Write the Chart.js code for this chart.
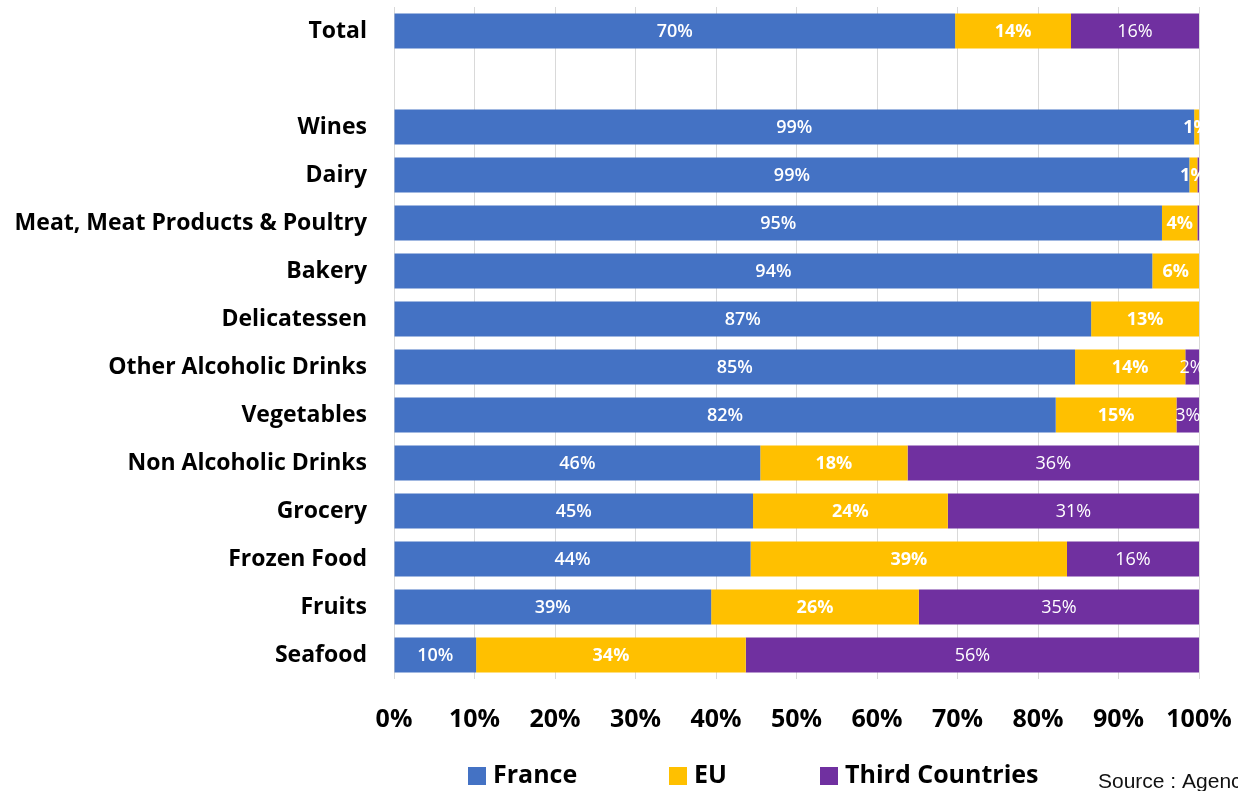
<!DOCTYPE html>
<html>
<head>
<meta charset="utf-8">
<script src="https://cdn.jsdelivr.net/npm/chart.js@4"></script>
<style>
  html, body { margin: 0; padding: 0; background: #fff; }
  #wrap { width: 1238px; height: 791px; position: relative; }
</style>
</head>
<body>
<div id="wrap"><canvas id="graf"></canvas></div>
<script>
const categorias = ['Total', '', 'Wines', 'Dairy', 'Meat, Meat Products & Poultry', 'Bakery',
  'Delicatessen', 'Other Alcoholic Drinks', 'Vegetables', 'Non Alcoholic Drinks', 'Grocery',
  'Frozen Food', 'Fruits', 'Seafood'];
const france = [69.7, null, 99.4, 98.8, 95.4, 94.2, 86.6, 84.6, 82.2, 45.5, 44.6, 44.3, 39.4, 10.2];
const eu = [14.4, null, 0.6, 1.0, 4.4, 5.8, 13.4, 13.7, 15.0, 18.3, 24.2, 39.3, 25.8, 33.5];
const terceiros = [15.9, null, 0, 0.2, 0.2, 0, 0, 1.7, 2.8, 36.2, 31.2, 16.4, 34.8, 56.3];
const ticksX = ['0%', '10%', '20%', '30%', '40%', '50%', '60%', '70%', '80%', '90%', '100%'];

const fonte = '"Open Sans", "Noto Sans", sans-serif';

// rotulos dentro das barras
const rotulos = {
  id: 'rotulos',
  afterDatasetsDraw(chart) {
    const ctx = chart.ctx;
    const pesos = ['600', 'bold', 'normal'];
    chart.data.datasets.forEach((ds, i) => {
      const meta = chart.getDatasetMeta(i);
      meta.data.forEach((bar, j) => {
        const v = ds.data[j];
        if (v == null || v < 0.5) return;
        ctx.save();
        ctx.fillStyle = '#ffffff';
        ctx.font = pesos[i] + ' 18px ' + fonte;
        ctx.textAlign = 'center';
        ctx.textBaseline = 'middle';
        ctx.fillText(Math.round(v) + '%', (bar.x + bar.base) / 2, bar.y + 1);
        ctx.restore();
      });
    });
  }
};

// legenda e fonte embaixo
const legendaBaixo = {
  id: 'legendaBaixo',
  afterDraw(chart) {
    const ctx = chart.ctx;
    const posicoes = [468, 669, 820];
    const y = 776;
    ctx.save();
    chart.data.datasets.forEach((ds, i) => {
      ctx.fillStyle = ds.backgroundColor;
      ctx.fillRect(posicoes[i], y - 9, 18, 18);
      ctx.fillStyle = '#000';
      ctx.font = 'bold 25px ' + fonte;
      ctx.textAlign = 'left';
      ctx.textBaseline = 'middle';
      ctx.fillText(ds.label, posicoes[i] + 25, y);
    });
    ctx.font = '21px "Liberation Sans", Arial, sans-serif';
    ctx.fillStyle = '#111';
    ctx.textBaseline = 'alphabetic';
    ctx.fillText('Source : Agence BIO', 1098, 788);
    ctx.restore();
  }
};

new Chart(document.getElementById('graf'), {
  type: 'bar',
  data: {
    labels: categorias,
    datasets: [
      { label: 'France', data: france, backgroundColor: '#4472C4' },
      { label: 'EU', data: eu, backgroundColor: '#FFC000' },
      { label: 'Third Countries', data: terceiros, backgroundColor: '#7030A0' }
    ]
  },
  options: {
    indexAxis: 'y',
    responsive: true,
    maintainAspectRatio: false,
    animation: false,
    barPercentage: 0.73,
    categoryPercentage: 1,
    layout: { padding: { top: 7, right: 39, bottom: 52, left: 0 } },
    plugins: {
      legend: { display: false },
      tooltip: { enabled: false }
    },
    scales: {
      x: {
        stacked: true,
        min: 0,
        max: 100,
        border: { display: false },
        grid: { color: '#d9d9d9', drawTicks: false },
        afterFit(scale) {
          scale.height = 60;
          scale.paddingLeft = 0;
          scale.paddingRight = 0;
        },
        ticks: {
          stepSize: 10,
          padding: 26,
          color: '#000',
          font: { family: fonte, size: 25, weight: 'bold' },
          callback: (v, i) => ticksX[i]
        }
      },
      y: {
        stacked: true,
        border: { display: false },
        grid: { display: false, drawTicks: false },
        afterFit(scale) {
          scale.width = 394;
          scale.paddingTop = 0;
          scale.paddingBottom = 0;
        },
        ticks: {
          padding: 27,
          color: '#000',
          font: { family: fonte, size: 23, weight: 'bold' }
        }
      }
    }
  },
  plugins: [rotulos, legendaBaixo]
});
</script>
</body>
</html>
